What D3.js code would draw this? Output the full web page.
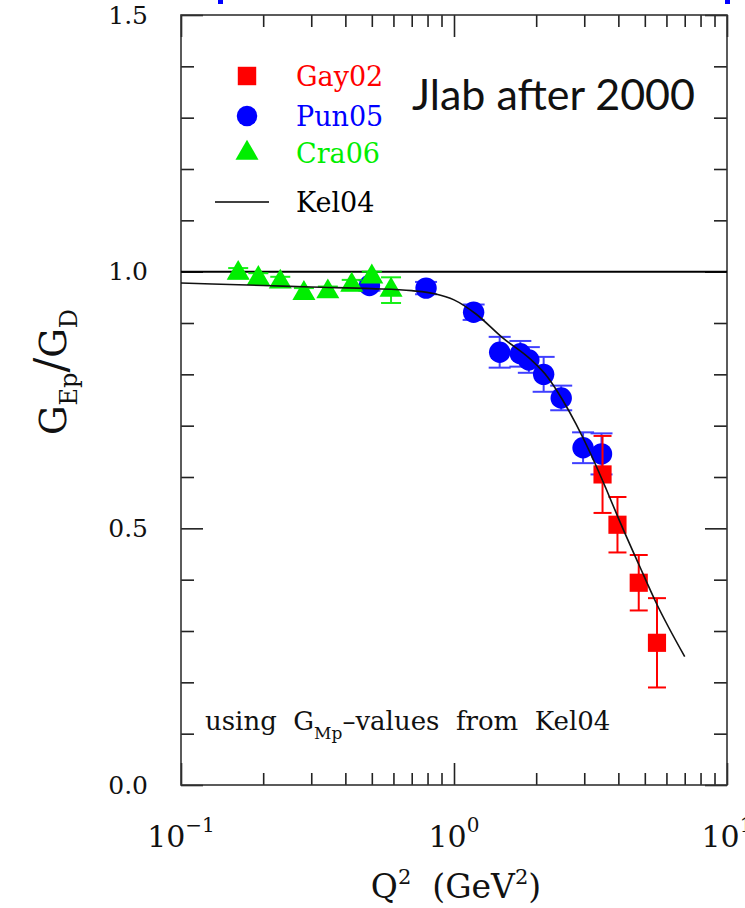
<!DOCTYPE html>
<html>
<head>
<meta charset="utf-8">
<script src="https://cdn.jsdelivr.net/npm/d3@7"></script>
<style>
  body { margin: 0; background: #fff; }
  text { font-family: "DejaVu Serif", serif; }
</style>
</head>
<body>
<div id="chart"></div>
<script>
// Gay02 (red squares)
const gayQ = [3.5, 3.97, 4.75, 5.54];
const gayR = [0.605, 0.507, 0.394, 0.277];
const gayErr = [0.075, 0.054, 0.054, 0.087];

// Pun05 (blue circles)
const punQ = [0.49, 0.79, 1.18, 1.47, 1.75, 1.88, 2.13, 2.47, 2.97, 3.47];
const punR = [0.973, 0.968, 0.921, 0.843, 0.840, 0.828, 0.800, 0.754, 0.657, 0.645];
const punErr = [0.01, 0.012, 0.015, 0.03, 0.025, 0.025, 0.034, 0.024, 0.03, 0.04];

// Cra06 (green triangles)
const craQ = [0.162, 0.192, 0.231, 0.282, 0.345, 0.422, 0.5, 0.588];
const craR = [0.997, 0.987, 0.98, 0.958, 0.961, 0.974, 0.99, 0.964];
const craErr = [0.01, 0.01, 0.01, 0.01, 0.01, 0.01, 0.01, 0.025];

// Kel04 fit curve
const kelQ = [0.1, 0.2, 0.3, 0.5, 0.7, 0.85, 1.0, 1.2, 1.5, 1.9, 2.2, 2.5, 2.8, 3.2, 3.6, 4.0, 4.75, 5.5, 7.0];
const kelR = [0.978, 0.973, 0.970, 0.967, 0.963, 0.957, 0.945, 0.918, 0.872, 0.830, 0.795, 0.750, 0.703, 0.640, 0.578, 0.52, 0.43, 0.355, 0.25];

const xMajor = [0.1, 1, 10];
const xMajorExp = ["\u22121", "0", "1"];
const yMajor = [0, 0.5, 1.0, 1.5];

const legendNames = ["Gay02", "Pun05", "Cra06", "Kel04"];
const legendColors = ["#ff0000", "#0000ff", "#00ee00", "#000"];

const W = 745, H = 908;
const margin = { top: 15, right: 18, bottom: 123, left: 181 };
const width = W - margin.left - margin.right,
  height = H - margin.top - margin.bottom;

const root = d3.select("#chart").append("svg")
  .attr("width", W).attr("height", H);

// blue bits of the slide title at the very top
root.append("rect").attr("x", 218).attr("y", 0).attr("width", 5).attr("height", 4).attr("fill", "#0000ff");
root.append("rect").attr("x", 725).attr("y", 0).attr("width", 5).attr("height", 4).attr("fill", "#0000ff");

const svg = root.append("g")
  .attr("transform", "translate(" + margin.left + "," + margin.top + ")");

const x = d3.scaleLog().domain([0.1, 10]).range([0, width]);
const y = d3.scaleLinear().domain([0, 1.5]).range([height, 0]);

const minorX = x.ticks().filter(v => !xMajor.some(m => Math.abs(m - v) < 1e-9));
const minorY = d3.range(0, 16).map(i => i / 10).filter(v => !yMajor.some(m => Math.abs(m - v) < 1e-9));

function styleAxis(g) {
  g.select(".domain").remove();
  g.selectAll("line").attr("stroke", "#222").attr("stroke-width", 1.6);
}

// minor ticks, all four sides, pointing inward
svg.append("g").attr("transform", "translate(0," + height + ")")
  .call(d3.axisBottom(x).tickValues(minorX).tickSize(-12).tickFormat("")).call(styleAxis);
svg.append("g")
  .call(d3.axisTop(x).tickValues(minorX).tickSize(-12).tickFormat("")).call(styleAxis);
svg.append("g")
  .call(d3.axisLeft(y).tickValues(minorY).tickSize(-13).tickFormat("")).call(styleAxis);
svg.append("g").attr("transform", "translate(" + width + ",0)")
  .call(d3.axisRight(y).tickValues(minorY).tickSize(-13).tickFormat("")).call(styleAxis);

// major ticks
svg.append("g").attr("transform", "translate(0," + height + ")")
  .call(d3.axisBottom(x).tickValues(xMajor).tickSize(-22).tickFormat("")).call(styleAxis);
svg.append("g")
  .call(d3.axisTop(x).tickValues(xMajor).tickSize(-22).tickFormat("")).call(styleAxis);
svg.append("g").attr("transform", "translate(" + width + ",0)")
  .call(d3.axisRight(y).tickValues(yMajor).tickSize(-22).tickFormat("")).call(styleAxis);
const yAxis = svg.append("g")
  .call(d3.axisLeft(y).tickValues(yMajor).tickSize(-22).tickPadding(33).tickFormat(d3.format(".1f")))
  .call(styleAxis);
yAxis.selectAll("text")
  .style("font-family", "DejaVu Serif").style("font-size", "25px").attr("fill", "#111");

// frame
svg.append("rect").attr("width", width).attr("height", height)
  .attr("fill", "none").attr("stroke", "#333").attr("stroke-width", 1.6);

// x tick labels 10^n
xMajor.forEach((v, i) => {
  const t = svg.append("text")
    .attr("x", x(v)).attr("y", height + 62)
    .attr("text-anchor", "middle")
    .style("font-size", "30px").attr("fill", "#111");
  t.append("tspan").text("10");
  t.append("tspan").attr("dy", -15).style("font-size", "20px").text(xMajorExp[i]);
});

// axis titles
const xt = svg.append("text")
  .attr("x", x(1) + 2).attr("y", height + 113)
  .attr("text-anchor", "middle").style("font-size", "33px").attr("fill", "#111")
  .style("white-space", "pre");
xt.append("tspan").text("Q");
xt.append("tspan").attr("dy", -14).style("font-size", "21px").text("2");
xt.append("tspan").attr("dy", 14).text("  (GeV");
xt.append("tspan").attr("dy", -14).style("font-size", "21px").text("2");
xt.append("tspan").attr("dy", 14).text(")");

const yt = root.append("text")
  .attr("transform", "translate(66,372) rotate(-90)")
  .attr("text-anchor", "middle").style("font-size", "37px").attr("fill", "#111");
yt.append("tspan").text("G");
yt.append("tspan").attr("dy", 11).style("font-size", "24px").text("Ep");
yt.append("tspan").attr("dy", -11).style("font-size", "44px").text("/");
yt.append("tspan").text("G");
yt.append("tspan").attr("dy", 11).style("font-size", "24px").text("D");

// horizontal line at 1
svg.append("line")
  .attr("x1", 0).attr("x2", width).attr("y1", y(1)).attr("y2", y(1))
  .attr("stroke", "#000").attr("stroke-width", 2);

// data helpers
function errorBars(qs, rs, es, color, cap, opacity) {
  const g = svg.append("g").attr("stroke", color).attr("stroke-width", 2).attr("opacity", opacity);
  qs.forEach((q, i) => {
    const cx = x(q);
    g.append("line").attr("x1", cx).attr("x2", cx).attr("y1", y(rs[i] - es[i])).attr("y2", y(rs[i] + es[i]));
    [rs[i] - es[i], rs[i] + es[i]].forEach(v => {
      g.append("line").attr("x1", cx - cap / 2).attr("x2", cx + cap / 2).attr("y1", y(v)).attr("y2", y(v));
    });
  });
}

function markers(qs, rs, type, size, color) {
  svg.append("g").selectAll("path")
    .data(qs.map((q, i) => [q, rs[i]]))
    .enter().append("path")
    .attr("transform", d => "translate(" + x(d[0]) + "," + y(d[1]) + ")")
    .attr("d", d3.symbol().type(type).size(size))
    .attr("fill", color);
}

errorBars(punQ, punR, punErr, "#0000ff", 22, 0.75);
markers(punQ, punR, d3.symbolCircle, 360, "#0000ff");
errorBars(craQ, craR, craErr, "#00ee00", 20, 0.9);
markers(craQ, craR, d3.symbolTriangle, 230, "#00ee00");
errorBars(gayQ, gayR, gayErr, "#ff0000", 18, 1);
markers(gayQ, gayR, d3.symbolSquare, 330, "#ff0000");

// Kel04 curve
svg.append("path")
  .datum(kelQ.map((q, i) => [q, kelR[i]]))
  .attr("fill", "none").attr("stroke", "#111").attr("stroke-width", 1.6)
  .attr("d", d3.line().x(d => x(d[0])).y(d => y(d[1])).curve(d3.curveMonotoneX));

// legend
const legY = [76, 116, 153, 202];
const legTypes = [d3.symbolSquare, d3.symbolCircle, d3.symbolTriangle];
const legSizes = [340, 330, 230];
legTypes.forEach((t, i) => {
  root.append("path")
    .attr("transform", "translate(247," + legY[i] + ")")
    .attr("d", d3.symbol().type(t).size(legSizes[i]))
    .attr("fill", legendColors[i]);
});
root.append("line").attr("x1", 215).attr("x2", 269).attr("y1", legY[3]).attr("y2", legY[3])
  .attr("stroke", "#000").attr("stroke-width", 1.6);
legendNames.forEach((n, i) => {
  root.append("text").attr("x", 296).attr("y", legY[i] + 10)
    .style("font-size", "27px").attr("fill", legendColors[i]).text(n);
});

// slide overlay text
root.append("text").attr("x", 412).attr("y", 110)
  .style("font-family", "Lato, 'Open Sans', sans-serif").style("font-size", "43px").attr("fill", "#111")
  .text("Jlab after 2000");

// annotation
const note = root.append("text").attr("x", 205).attr("y", 730)
  .style("font-size", "26px").attr("fill", "#111").style("white-space", "pre");
note.append("tspan").text("using  G");
note.append("tspan").attr("dy", 9).style("font-size", "17px").text("Mp");
note.append("tspan").attr("dy", -9).text("\u2013values  from  Kel04");
</script>
</body>
</html>
